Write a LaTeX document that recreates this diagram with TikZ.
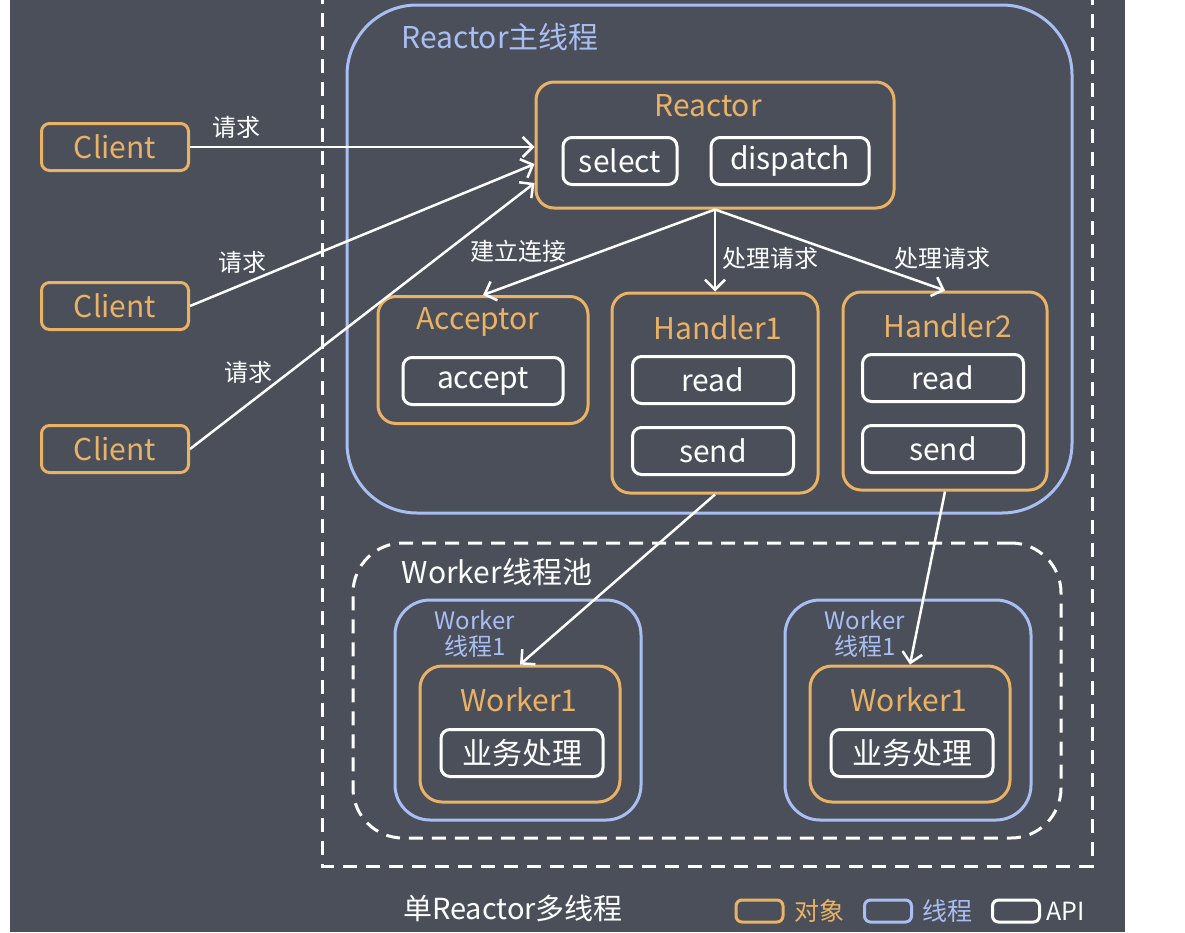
\documentclass[tikz,border=0pt]{standalone}
\usepackage{fontspec}
\setmainfont{Noto Sans CJK SC}
\usetikzlibrary{arrows.meta,calc}
\definecolor{bgc}{HTML}{4B4F5A}
\definecolor{objc}{HTML}{E9B265}
\definecolor{thrc}{HTML}{A9BEF2}
\newcommand{\fs}[1]{\fontsize{#1}{#1}\selectfont}
\tikzset{
  objbox/.style={draw=objc, line width=3pt, rounded corners=18pt, inner sep=0pt},
  thrbox/.style={draw=thrc, line width=3pt, inner sep=0pt},
  apibox/.style={draw=white, line width=3pt, rounded corners=9pt, text=white,
    inner sep=0pt, minimum height=47pt, font=\fs{30}},
  title/.style={text=objc, font=\fs{30}},
  req/.style={draw=white, line width=2.5pt,
    -{Straight Barb[length=10pt,width=20pt,line width=2.5pt]}},
  lbl/.style={text=white, font=\fs{24}},
  fence/.style={draw=white, line width=3pt, dash pattern=on 14pt off 9pt},
}
\begin{document}
\begin{tikzpicture}[x=1pt,y=-1pt]
    \fill[white] (0,0) rectangle (1185,932);
    \useasboundingbox (0,0) rectangle (1185,932);
    \fill[bgc] (10,0) rectangle (1125,932);
    % outer frame
    \draw[fence] (322,-10) -- (322,866) -- (1092,866) -- (1092,-10);
    % Reactor main thread
    \node[thrbox, rounded corners=70pt, minimum width=725pt, minimum height=508pt] (mainthr) at (709.5,259) {};
    \node[text=thrc, font=\fs{30}] (mainlbl) at (500,37) {Reactor主线程};
    % clients
    \foreach \n/\y in {1/147, 2/306, 3/449}
        \node[objbox, rounded corners=8pt, minimum width=147pt, minimum height=47pt,
              text=objc, font=\fs{30}] (c\n) at (115,\y) {Client};
    % Reactor
    \node[objbox, minimum width=358pt, minimum height=126pt] (reactor) at (715,145) {};
    \node[title] (reactorlbl) at (708,106) {Reactor};
    \node[apibox, minimum width=114pt] (select) at (620,161) {select};
    \node[apibox, minimum width=158pt] (dispatch) at (790,161) {dispatch};
    % Acceptor
    \node[objbox, minimum width=210pt, minimum height=127pt] (acceptor) at (483,360) {};
    \node[title] (acceptorlbl) at (478,322) {Acceptor};
    \node[apibox, minimum width=160pt] (accept) at (483,381) {accept};
    % Handlers
    \node[objbox, minimum width=206pt, minimum height=200pt] (h1) at (715,393) {};
    \node[title] (h1lbl) at (718,328) {Handler1};
    \node[apibox, minimum width=161pt] (read1) at (713,380) {read};
    \node[apibox, minimum width=161pt] (send1) at (713,451) {send};
    \node[objbox, minimum width=204pt, minimum height=198pt] (h2) at (945,391) {};
    \node[title] (h2lbl) at (948,326) {Handler2};
    \node[apibox, minimum width=161pt] (read2) at (943,378) {read};
    \node[apibox, minimum width=161pt] (send2) at (943,449) {send};
    % Worker pool
    \node[fence, rounded corners=50pt, minimum width=708pt, minimum height=295pt, inner sep=0pt] (pool) at (707,690.5) {};
    \node[text=white, font=\fs{30}] (poollbl) at (497,572) {Worker线程池};
    \foreach \n/\x in {1/518, 2/908} {
        \node[thrbox, rounded corners=35pt, minimum width=246pt, minimum height=220pt] (wt\n) at (\x,710) {};
        \node[text=thrc, font=\fs{24}, align=center, inner sep=0pt] (wtlbl\n) at (\x-43,634) {Worker\\[2pt]线程1};
        \node[objbox, rounded corners=22pt, minimum width=200pt, minimum height=136pt] (w\n) at (\x+2,734) {};
        \node[title] (wlbl\n) at (\x+1,700) {Worker1};
        \node[apibox, minimum width=162pt] (biz\n) at (\x+4,753) {业务处理};
    }
    % requests
    \draw[req] (c1.east) -- (c1.east -| reactor.west);
    \draw[req] (c2.east) -- ($(reactor.west)+(0,19)$);
    \draw[req] (c3.east) -- ($(reactor.west)+(0,38)$);
    \node[lbl] (q1) at (236,127) {请求};
    \node[lbl] (q2) at (242,262) {请求};
    \node[lbl] (q3) at (248,372) {请求};
    % dispatch
    \draw[req] (reactor.south) -- (acceptor.north);
    \draw[req] (reactor.south) -- (h1.north);
    \draw[req] (reactor.south) -- (h2.north);
    \node[lbl] (conn) at (518,251) {建立连接};
    \node[lbl] (deal1) at (770,258) {处理请求};
    \node[lbl] (deal2) at (942,258) {处理请求};
    \draw[req] (h1.south) -- (w1.north);
    \draw[req] (h2.south) -- (w2.north);
    % caption and legend
    \node[text=white, font=\fs{29}] (caption) at (513,908) {单Reactor多线程};
    \node[draw=objc, line width=3pt, rounded corners=6pt, minimum width=47pt, minimum height=22pt] (keyobj) at (759.5,911) {};
    \node[text=objc, font=\fs{25}, right=6pt] (keyobjlbl) at (keyobj.east) {对象};
    \node[draw=thrc, line width=3pt, rounded corners=6pt, minimum width=47pt, minimum height=22pt] (keythr) at (888,911) {};
    \node[text=thrc, font=\fs{25}, right=6pt] (keythrlbl) at (keythr.east) {线程};
    \node[draw=white, line width=3pt, rounded corners=6pt, minimum width=47pt, minimum height=22pt] (keyapi) at (1016,911) {};
    \node[text=white, font=\fs{25}, right=2pt] (keyapilbl) at (keyapi.east) {API};
\end{tikzpicture}
\end{document}
